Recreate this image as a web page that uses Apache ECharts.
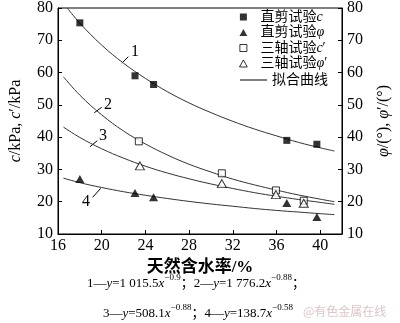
<!DOCTYPE html>
<html><head><meta charset="utf-8">
<script src="https://cdn.jsdelivr.net/npm/echarts@6/dist/echarts.min.js"></script>
<style>html,body{margin:0;padding:0;background:#fff}#c{width:400px;height:323px}</style>
</head><body><div id="c"></div>
<script>
// ---- data ----
const xMin = 16, xMax = 42, xStep = 4;
const yMin = 10, yMax = 80, yStep = 10;

const shearCX   = [18.0, 23.05, 24.75, 36.95, 39.7];
const shearC    = [75.4, 59.0, 56.3, 39.0, 37.8];
const shearPhiX = [18.0, 23.05, 24.75, 36.95, 39.7];
const shearPhi  = [27.0, 22.7, 21.4, 19.6, 15.3];
const triCX     = [23.4, 31.0, 35.95, 38.5];
const triC      = [38.7, 28.8, 23.5, 20.3];
const triPhiX   = [23.5, 31.0, 35.95, 38.5];
const triPhi    = [31.1, 25.6, 22.2, 19.5];

const fit1X = [16.85, 18, 20, 22, 24, 26, 28, 30, 32, 34, 36, 38, 40, 41.3];
const fit1  = [80.0, 75.3, 68.5, 62.9, 58.2, 54.1, 50.6, 47.6, 44.9, 42.5, 40.4, 38.4, 36.7, 35.7];
const fitX  = [16.5, 18, 20, 22, 24, 26, 28, 30, 32, 34, 36, 38, 40, 41.3];
const fit2  = [58.7, 53.0, 46.9, 41.9, 37.9, 34.5, 31.6, 29.2, 27.0, 25.2, 23.6, 22.1, 20.8, 20.0];
const fit3  = [43.1, 39.9, 36.4, 33.5, 31.0, 28.9, 27.1, 25.5, 24.1, 22.8, 21.7, 20.7, 19.8, 19.2];
const fit4  = [27.3, 25.9, 24.4, 23.1, 22.0, 21.0, 20.1, 19.3, 18.6, 17.9, 17.3, 16.8, 16.3, 16.0];

const seriesNames = ['直剪试验c', '直剪试验φ', '三轴试验c′', '三轴试验φ′'];
const legendRich  = {
  '直剪试验c': '直剪试验{i|c}',
  '直剪试验φ': '直剪试验{i|φ}',
  '三轴试验c′': '三轴试验{i|c}′',
  '三轴试验φ′': '三轴试验{i|φ}′'
};
const fitName = '拟合曲线';
const xTitle = '天然含水率/%';
const yLeftTitle = '{i|c}/kPa, {i|c}′/kPa';
const yRightTitle = '{i|φ}/(°), {i|φ}′/(°)';
const formula1 = '{n|1—}{i|y}{n|=1 015.5}{i|x}{s|−0.9}{n|；2—}{i|y}{n|=1 776.2}{i|x}{s|−0.88}{n|；}';
const formula2 = '{n|3—}{i|y}{n|=508.1}{i|x}{s|−0.88}{n|；4—}{i|y}{n|=138.7}{i|x}{s|−0.58}';
const curveLabels = ['1', '2', '3', '4'];

// ---- chart ----
const zip = (xs, ys) => xs.map((x, i) => [x, ys[i]]);
const SERIF = '"Liberation Serif", "Noto Sans CJK SC", serif';
const CJK = '"Liberation Serif", "Noto Sans CJK SC", sans-serif';
const chart = echarts.init(document.getElementById('c'), null, {renderer: 'canvas'});

const ICON_SQ = 'path://M0,0L10,0L10,10L0,10Z';
const ICON_TRI = 'path://M5,0L10,9L0,9Z';
const ICON_LINE = 'path://M0,0M27,14M0,6.5L27,6.5L27,7.5L0,7.5Z';

const yAxisBase = (pos, name) => ({
  type: 'value', position: pos, min: yMin, max: yMax, interval: yStep,
  name: name, nameLocation: 'middle', nameRotate: 90, nameGap: 34,
  nameTextStyle: {fontFamily: SERIF, fontSize: 16, color: '#000',
    rich: {i: {fontFamily: SERIF, fontSize: 16, fontStyle: 'italic', color: '#000'}}},
  axisLine: {show: true, lineStyle: {color: '#000', width: 1}},
  axisTick: {show: true, inside: true, length: 4, lineStyle: {color: '#000'}},
  axisLabel: {fontFamily: SERIF, fontSize: 16, color: '#000', margin: 5},
  splitLine: {show: false}
});

const lineStyleFit = {color: '#333', width: 1};
const fitSeries = (xs, ys, yi) => ({
  name: fitName, type: 'line', yAxisIndex: yi, data: zip(xs, ys),
  symbol: 'none', smooth: 0.4, lineStyle: lineStyleFit, itemStyle: {color: '#333'},
  silent: true, z: 1
});

chart.setOption({
  animation: false,
  backgroundColor: '#fff',
  grid: {left: 48, right: 46, top: 5, bottom: 89, show: true, borderColor: '#000', borderWidth: 1, backgroundColor: 'transparent'},
  xAxis: {
    type: 'value', min: xMin, max: xMax, interval: xStep,
    name: xTitle, nameLocation: 'middle', nameGap: 25,
    nameTextStyle: {fontFamily: CJK, fontSize: 17, fontWeight: 'bold', color: '#000'},
    axisLine: {show: true, lineStyle: {color: '#000', width: 1}},
    axisTick: {show: true, inside: true, length: 4, lineStyle: {color: '#000'}},
    axisLabel: {fontFamily: SERIF, fontSize: 16, color: '#000', margin: 4, showMaxLabel: false},
    splitLine: {show: false}
  },
  yAxis: [yAxisBase('left', yLeftTitle), yAxisBase('right', yRightTitle)],
  legend: [
    {
      orient: 'vertical', left: 239, top: 10, padding: 0, itemWidth: 24, itemHeight: 7, itemGap: 1.5,
      symbolKeepAspect: true,
      data: [
        {name: seriesNames[0], icon: ICON_SQ, itemStyle: {color: '#000', borderWidth: 0}},
        {name: seriesNames[1], icon: ICON_TRI, itemStyle: {color: '#000', borderWidth: 0}},
        {name: seriesNames[2], icon: ICON_SQ, itemStyle: {color: '#fff', borderColor: '#000', borderWidth: 1}},
        {name: seriesNames[3], icon: ICON_TRI, itemStyle: {color: '#fff', borderColor: '#000', borderWidth: 1}}
      ],
      formatter: n => legendRich[n] || n,
      textStyle: {fontFamily: CJK, fontSize: 14, color: '#000',
        rich: {i: {fontFamily: SERIF, fontSize: 14, fontStyle: 'italic', color: '#000'}}}
    },
    {
      orient: 'vertical', left: 240, top: 73, padding: 0, itemWidth: 27, itemHeight: 14,
      symbolKeepAspect: true,
      data: [{name: fitName, icon: ICON_LINE, itemStyle: {color: '#000', borderWidth: 0}}],
      textStyle: {fontFamily: CJK, fontSize: 14, color: '#000'}
    }
  ],
  series: [
    fitSeries(fit1X, fit1, 0),
    fitSeries(fitX, fit2, 0),
    fitSeries(fitX, fit3, 1),
    fitSeries(fitX, fit4, 1),
    {name: seriesNames[0], type: 'scatter', yAxisIndex: 0, data: zip(shearCX, shearC),
      symbol: 'rect', symbolSize: 7, itemStyle: {color: '#000'}, z: 3},
    {name: seriesNames[1], type: 'scatter', yAxisIndex: 1, data: zip(shearPhiX, shearPhi),
      symbol: 'triangle', symbolSize: [9, 8], itemStyle: {color: '#000'}, z: 3},
    {name: seriesNames[2], type: 'scatter', yAxisIndex: 0, data: zip(triCX, triC),
      symbol: 'rect', symbolSize: 7, itemStyle: {color: '#fff', borderColor: '#000', borderWidth: 1}, z: 3},
    {name: seriesNames[3], type: 'scatter', yAxisIndex: 1, data: zip(triPhiX, triPhi),
      symbol: 'triangle', symbolSize: [9, 8], itemStyle: {color: '#fff', borderColor: '#000', borderWidth: 1}, z: 3}
  ],
  graphic: [
    {type: 'text', left: 131, top: 44, style: {text: curveLabels[0], font: '16px "Liberation Serif"', fill: '#000'}},
    {type: 'text', left: 104, top: 97, style: {text: curveLabels[1], font: '16px "Liberation Serif"', fill: '#000'}},
    {type: 'text', left: 99, top: 128, style: {text: curveLabels[2], font: '16px "Liberation Serif"', fill: '#000'}},
    {type: 'text', left: 82, top: 194, style: {text: curveLabels[3], font: '16px "Liberation Serif"', fill: '#000'}},
    {type: 'line', shape: {x1: 121.7, y1: 63.3, x2: 128.3, y2: 56.7}, style: {stroke: '#000', lineWidth: 1}},
    {type: 'line', shape: {x1: 94.3, y1: 112.7, x2: 101.7, y2: 107.3}, style: {stroke: '#000', lineWidth: 1}},
    {type: 'line', shape: {x1: 90, y1: 146.7, x2: 97.3, y2: 140.7}, style: {stroke: '#000', lineWidth: 1}},
    {type: 'line', shape: {x1: 92.7, y1: 197.3, x2: 100.7, y2: 188.3}, style: {stroke: '#000', lineWidth: 1}},
    {type: 'text', left: 87, top: 273, style: {text: formula1, fill: '#000',
      rich: {
        n: {fontFamily: SERIF, fontSize: 13, lineHeight: 17, verticalAlign: 'bottom', fill: '#000'},
        i: {fontFamily: SERIF, fontSize: 13, lineHeight: 17, verticalAlign: 'bottom', fontStyle: 'italic', fill: '#000'},
        s: {fontFamily: SERIF, fontSize: 9, lineHeight: 10, verticalAlign: 'top', fill: '#000'}
      }}},
    {type: 'text', left: 103, top: 303, style: {text: formula2, fill: '#000',
      rich: {
        n: {fontFamily: SERIF, fontSize: 13, lineHeight: 17, verticalAlign: 'bottom', fill: '#000'},
        i: {fontFamily: SERIF, fontSize: 13, lineHeight: 17, verticalAlign: 'bottom', fontStyle: 'italic', fill: '#000'},
        s: {fontFamily: SERIF, fontSize: 9, lineHeight: 10, verticalAlign: 'top', fill: '#000'}
      }}},
    {type: 'text', left: 303, top: 305, style: {text: '@有色金属在线', font: '12px "Noto Sans CJK SC"', fill: '#dcc6c6'}}
  ]
});
</script></body></html>
